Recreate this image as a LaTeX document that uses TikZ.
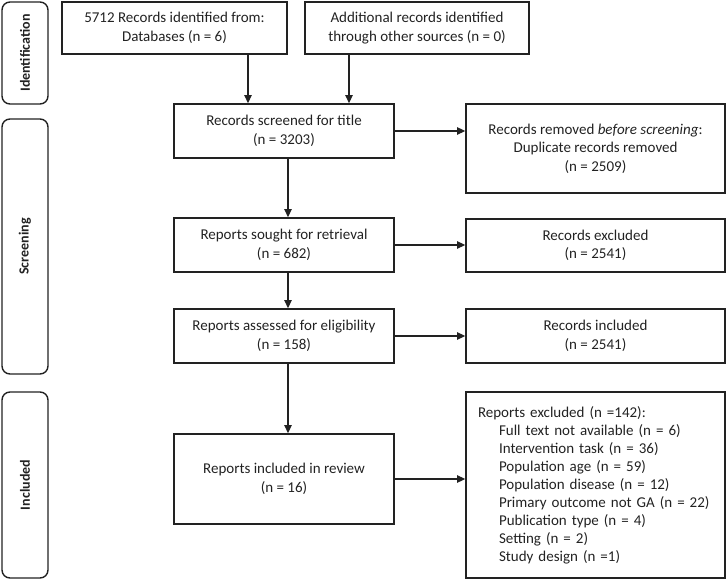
\documentclass[tikz,border=0pt]{standalone}
\usepackage{fontspec}
\setmainfont{Carlito}
\usetikzlibrary{arrows.meta}
\definecolor{ink}{HTML}{222222}
\begin{document}
\begin{tikzpicture}[x=1pt,y=-1pt,
  every node/.style={font=\fontsize{15}{18.5}\selectfont, text=ink},
  box/.style={draw=ink, line width=1.8pt, rectangle, align=center, inner sep=0pt},
  phase/.style={draw=ink, line width=1.4pt, rounded corners=8pt, rotate=90,
      font=\fontsize{14}{17}\selectfont\bfseries, inner sep=0pt, minimum height=46},
  arr/.style={draw=ink, line width=1.3pt, -{Triangle[length=8pt,width=7.5pt]}}]
\useasboundingbox (0,0) rectangle (726,580);

% phase labels
\node[phase, minimum width=102] (pid) at (25,53) {Identification};
\node[phase, minimum width=255] (psc) at (25,246.5) {Screening};
\node[phase, minimum width=186] (pin) at (25,485) {Included};

% main column
\node[box, minimum width=225, minimum height=52] (B1) at (174.5,28) {5712 Records identified from:\\Databases (n = 6)};
\node[box, minimum width=224, minimum height=52] (B2) at (417,28) {Additional records identified\\through other sources (n = 0)};
\node[box, minimum width=220, minimum height=54] (B3) at (284,131) {Records screened for title\\(n = 3203)};
\node[box, minimum width=220, minimum height=54] (B4) at (284,245) {Reports sought for retrieval\\(n = 682)};
\node[box, minimum width=220, minimum height=54] (B5) at (284,336) {Reports assessed for eligibility\\(n = 158)};
\node[box, minimum width=220, minimum height=90] (B6) at (284,479) {Reports included in review\\(n = 16)};

% right column
\node[box, minimum width=259, minimum height=89] (R1) at (595.5,148.5) {Records removed \emph{before screening}:\\Duplicate records removed\\(n = 2509)};
\node[box, minimum width=259, minimum height=53] (R2) at (595.5,245.5) {Records excluded\\(n = 2541)};
\node[box, minimum width=259, minimum height=54] (R3) at (595.5,336) {Records included\\(n = 2541)};
\node[box, minimum width=259, minimum height=186, inner xsep=12pt, text width=235, align=left,
      font=\fontsize{15}{18}\selectfont] (R4) at (595.5,485)
  {Reports excluded (n =142):\\
   \hspace*{21pt}Full text not available (n = 6)\\
   \hspace*{21pt}Intervention task (n = 36)\\
   \hspace*{21pt}Population age (n = 59)\\
   \hspace*{21pt}Population disease (n = 12)\\
   \hspace*{21pt}Primary outcome not GA (n = 22)\\
   \hspace*{21pt}Publication type (n = 4)\\
   \hspace*{21pt}Setting (n = 2)\\
   \hspace*{21pt}Study design (n =1)};

% helper x positions
\coordinate (xa) at (248,0);
\coordinate (xb) at (349,0);
\coordinate (xc) at (288,0);

% connectors
\draw[arr] (B1.south -| xa) -- (B3.north -| xa);
\draw[arr] (B2.south -| xb) -- (B3.north -| xb);
\draw[arr] (B3.south -| xc) -- (B4.north -| xc);
\draw[arr] (B4.south -| xc) -- (B5.north -| xc);
\draw[arr] (B5.south -| xc) -- (B6.north -| xc);
\draw[arr] (B3.east) -- (R1.west |- B3.east);
\draw[arr] (B4.east) -- (R2.west |- B4.east);
\draw[arr] (B5.east) -- (R3.west |- B5.east);
\draw[arr] (B6.east) -- (R4.west |- B6.east);
\end{tikzpicture}
\end{document}
